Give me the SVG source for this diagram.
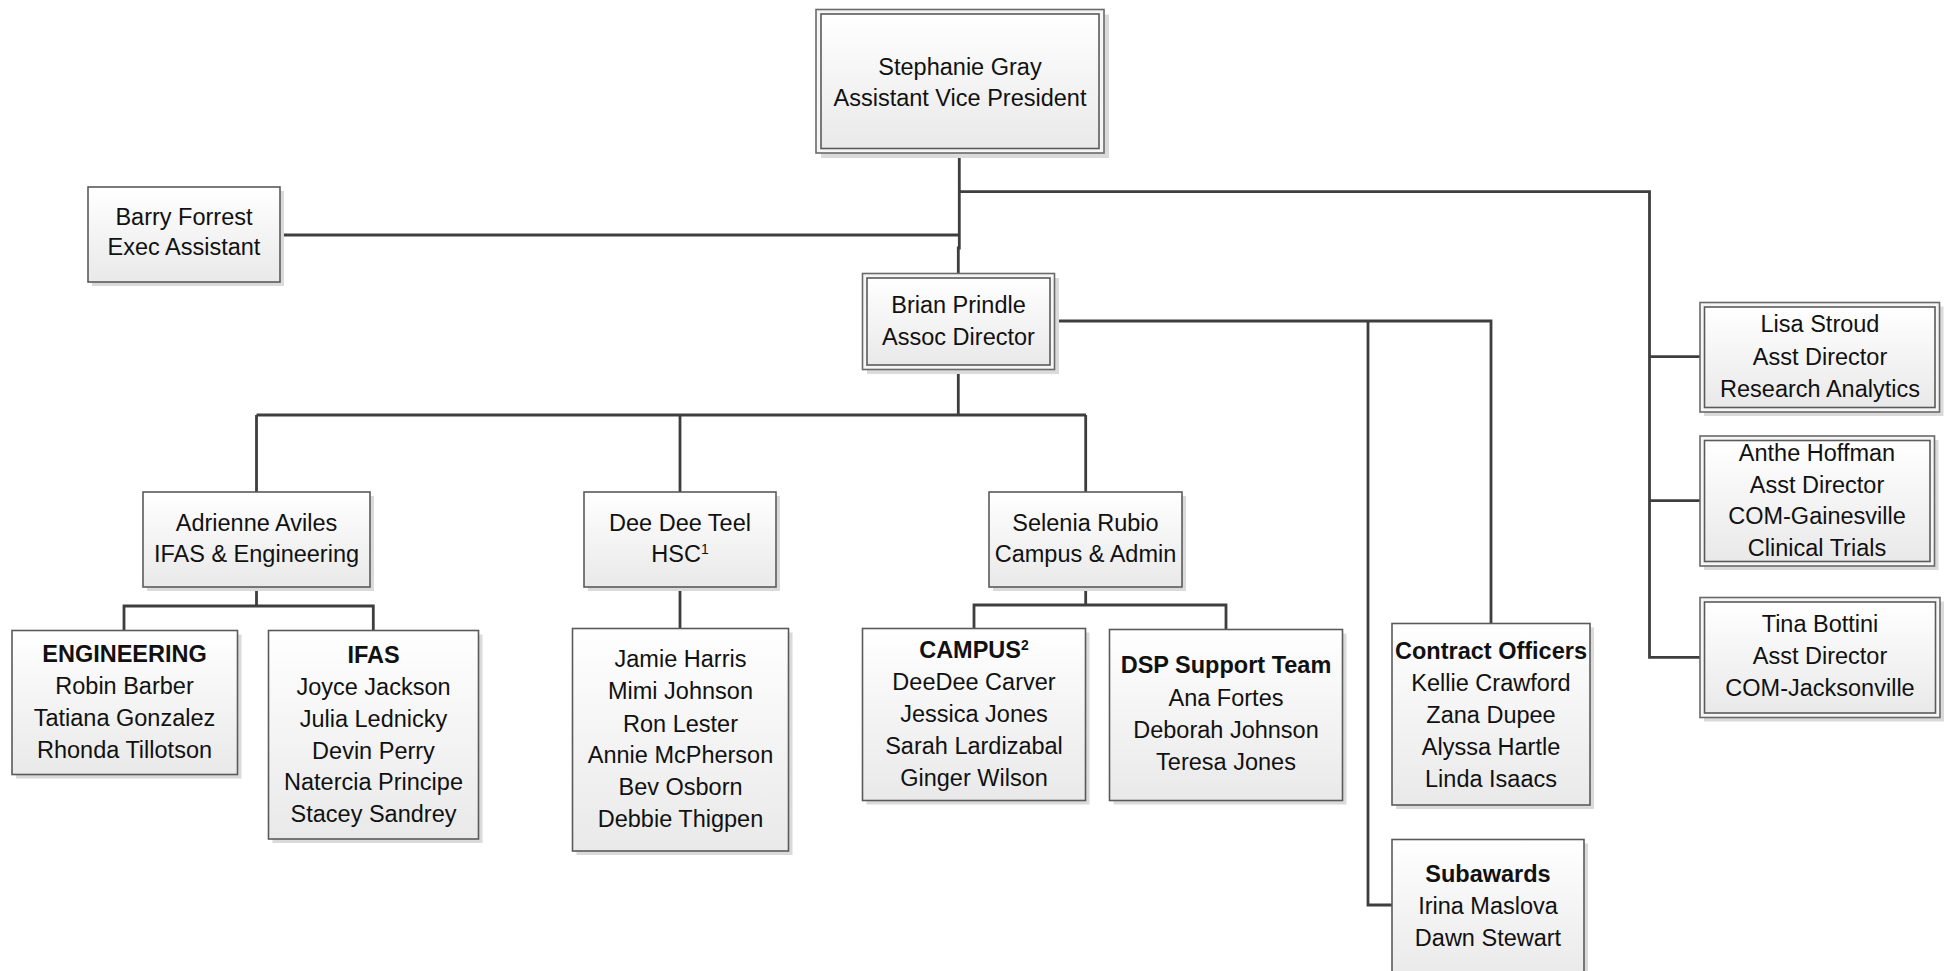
<svg xmlns="http://www.w3.org/2000/svg" width="1950" height="971" viewBox="0 0 1950 971">
<defs>
<linearGradient id="g" x1="0" y1="0" x2="0" y2="1">
<stop offset="0" stop-color="#ffffff"/>
<stop offset="1" stop-color="#e9e9e9"/>
</linearGradient>
<style>
.sh{fill:#dadada}
.bx{fill:url(#g);stroke:#5a5a5a;stroke-width:1.6}
.ob{fill:#f6f6f6;stroke:#6a6a6a;stroke-width:1.6}
.t{font-family:"Liberation Sans",Arial,sans-serif;font-size:23.5px;fill:#111;text-anchor:middle}
.b{font-weight:bold}
.c{fill:none;stroke:#3e3e3e;stroke-width:2.8}
</style>
</defs>
<rect width="1950" height="971" fill="#ffffff"/>
<g id="connectors">
<path class="c" d="M959.3,154 V248 H958.3 V273.5"/>
<path class="c" d="M280,235 H959.3"/>
<path class="c" d="M959.3,191.7 H1649.5 V657.3 H1700"/>
<path class="c" d="M1649.5,356.7 H1700"/>
<path class="c" d="M1649.5,500.7 H1700"/>
<path class="c" d="M1054.5,321 H1491 V623.5"/>
<path class="c" d="M1368,321 V905 H1392"/>
<path class="c" d="M958.3,369.5 V415"/>
<path class="c" d="M256.5,415 H1086"/>
<path class="c" d="M256.5,415 V492 M680,415 V492 M1085.7,415 V492"/>
<path class="c" d="M256.5,587 V606 M124,630.5 V606 H373.3 V630.5"/>
<path class="c" d="M680,587 V628.5"/>
<path class="c" d="M1085.7,587 V605 M974,628.5 V605 H1226 V629.5"/>
</g>
<g id="stephanie">
<rect class="sh" x="821" y="14.5" width="288" height="143.5"/>
<rect class="ob" x="816" y="9.5" width="288" height="143.5"/>
<rect class="bx" x="821" y="14" width="278" height="134.5"/>
<text class="t" x="960" y="75">Stephanie Gray</text>
<text class="t" x="960" y="106">Assistant Vice President</text>
</g>
<g id="barry">
<rect class="sh" x="92" y="191" width="192" height="95"/>
<rect class="bx" x="88" y="187" width="192" height="95"/>
<text class="t" x="184" y="225">Barry Forrest</text>
<text class="t" x="184" y="255">Exec Assistant</text>
</g>
<g id="brian">
<rect class="sh" x="867" y="278" width="192" height="96"/>
<rect class="ob" x="862.5" y="273.5" width="192" height="96"/>
<rect class="bx" x="867" y="278" width="183" height="87"/>
<text class="t" x="958.5" y="313">Brian Prindle</text>
<text class="t" x="958.5" y="345">Assoc Director</text>
</g>
<g id="adrienne">
<rect class="sh" x="147" y="496" width="227" height="95"/>
<rect class="bx" x="143" y="492" width="227" height="95"/>
<text class="t" x="256.5" y="530.5">Adrienne Aviles</text>
<text class="t" x="256.5" y="562">IFAS &amp; Engineering</text>
</g>
<g id="deedee">
<rect class="sh" x="588" y="496" width="192" height="95"/>
<rect class="bx" x="584" y="492" width="192" height="95"/>
<text class="t" x="680" y="530.5">Dee Dee Teel</text>
<text class="t" x="680" y="562">HSC<tspan font-size="14" baseline-shift="super">1</tspan></text>
</g>
<g id="selenia">
<rect class="sh" x="993" y="496" width="193" height="95"/>
<rect class="bx" x="989" y="492" width="193" height="95"/>
<text class="t" x="1085.5" y="530.5">Selenia Rubio</text>
<text class="t" x="1085.5" y="562">Campus &amp; Admin</text>
</g>
<g id="engineering">
<rect class="sh" x="16" y="634.5" width="225.5" height="144"/>
<rect class="bx" x="12" y="630.5" width="225.5" height="144"/>
<text class="t b" x="124.5" y="661.5">ENGINEERING</text>
<text class="t" x="124.5" y="693.5">Robin Barber</text>
<text class="t" x="124.5" y="725.5">Tatiana Gonzalez</text>
<text class="t" x="124.5" y="757.5">Rhonda Tillotson</text>
</g>
<g id="ifas">
<rect class="sh" x="272.5" y="634.5" width="210" height="208.5"/>
<rect class="bx" x="268.5" y="630.5" width="210" height="208.5"/>
<text class="t b" x="373.5" y="662.5">IFAS</text>
<text class="t" x="373.5" y="695">Joyce Jackson</text>
<text class="t" x="373.5" y="726.5">Julia Lednicky</text>
<text class="t" x="373.5" y="758.5">Devin Perry</text>
<text class="t" x="373.5" y="790">Natercia Principe</text>
<text class="t" x="373.5" y="822">Stacey Sandrey</text>
</g>
<g id="hsc-team">
<rect class="sh" x="576.5" y="632.5" width="216" height="222.5"/>
<rect class="bx" x="572.5" y="628.5" width="216" height="222.5"/>
<text class="t" x="680.5" y="667">Jamie Harris</text>
<text class="t" x="680.5" y="699">Mimi Johnson</text>
<text class="t" x="680.5" y="731.5">Ron Lester</text>
<text class="t" x="680.5" y="763">Annie McPherson</text>
<text class="t" x="680.5" y="795">Bev Osborn</text>
<text class="t" x="680.5" y="826.5">Debbie Thigpen</text>
</g>
<g id="campus">
<rect class="sh" x="866.5" y="632.5" width="223" height="172"/>
<rect class="bx" x="862.5" y="628.5" width="223" height="172"/>
<text class="t" x="974" y="658"><tspan class="b">CAMPUS</tspan><tspan font-size="14" font-weight="bold" baseline-shift="super">2</tspan></text>
<text class="t" x="974" y="690">DeeDee Carver</text>
<text class="t" x="974" y="722">Jessica Jones</text>
<text class="t" x="974" y="754">Sarah Lardizabal</text>
<text class="t" x="974" y="785.5">Ginger Wilson</text>
</g>
<g id="dsp">
<rect class="sh" x="1113.5" y="633.5" width="233" height="171"/>
<rect class="bx" x="1109.5" y="629.5" width="233" height="171"/>
<text class="t b" x="1226" y="673">DSP Support Team</text>
<text class="t" x="1226" y="705.5">Ana Fortes</text>
<text class="t" x="1226" y="737.5">Deborah Johnson</text>
<text class="t" x="1226" y="769.5">Teresa Jones</text>
</g>
<g id="contract">
<rect class="sh" x="1396" y="627.5" width="198" height="181.5"/>
<rect class="bx" x="1392" y="623.5" width="198" height="181.5"/>
<text class="t b" x="1491" y="659">Contract Officers</text>
<text class="t" x="1491" y="690.5">Kellie Crawford</text>
<text class="t" x="1491" y="722.5">Zana Dupee</text>
<text class="t" x="1491" y="755">Alyssa Hartle</text>
<text class="t" x="1491" y="787">Linda Isaacs</text>
</g>
<g id="subawards">
<rect class="sh" x="1396" y="843.5" width="192" height="140"/>
<rect class="bx" x="1392" y="839.5" width="192" height="140"/>
<text class="t b" x="1488" y="881.5">Subawards</text>
<text class="t" x="1488" y="914">Irina Maslova</text>
<text class="t" x="1488" y="946">Dawn Stewart</text>
</g>
<g id="lisa">
<rect class="sh" x="1704" y="306.5" width="239.5" height="109.5"/>
<rect class="ob" x="1700" y="302.5" width="239.5" height="109.5"/>
<rect class="bx" x="1704.5" y="307" width="230.5" height="100.5"/>
<text class="t" x="1820" y="332">Lisa Stroud</text>
<text class="t" x="1820" y="365">Asst Director</text>
<text class="t" x="1820" y="396.5">Research Analytics</text>
</g>
<g id="anthe">
<rect class="sh" x="1704" y="440" width="234.5" height="130"/>
<rect class="ob" x="1700" y="436" width="234.5" height="130"/>
<rect class="bx" x="1704.5" y="440.5" width="225.5" height="121"/>
<text class="t" x="1817" y="460.5">Anthe Hoffman</text>
<text class="t" x="1817" y="492.5">Asst Director</text>
<text class="t" x="1817" y="524">COM-Gainesville</text>
<text class="t" x="1817" y="555.5">Clinical Trials</text>
</g>
<g id="tina">
<rect class="sh" x="1704" y="601.5" width="240" height="120"/>
<rect class="ob" x="1700" y="597.5" width="240" height="120"/>
<rect class="bx" x="1704.5" y="602" width="231" height="111"/>
<text class="t" x="1820" y="631.5">Tina Bottini</text>
<text class="t" x="1820" y="664">Asst Director</text>
<text class="t" x="1820" y="696">COM-Jacksonville</text>
</g>
</svg>
